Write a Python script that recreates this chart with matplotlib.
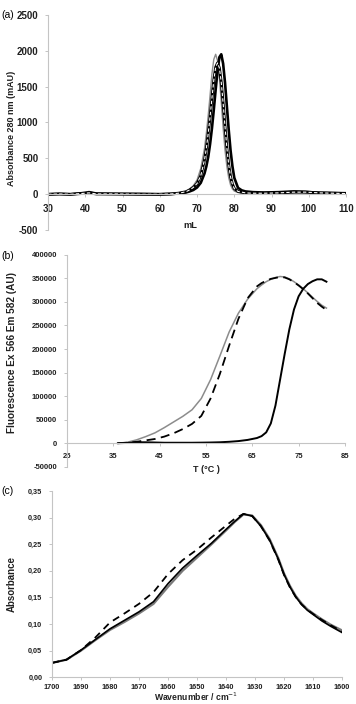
import numpy as np
import matplotlib
matplotlib.use("Agg")
import matplotlib.pyplot as plt
from matplotlib.ticker import FuncFormatter

plt.rcParams['font.family'] = ['Liberation Sans', 'DejaVu Sans']
plt.rcParams['axes.unicode_minus'] = False

# (a) size exclusion chromatogram, mL vs absorbance 280 nm (mAU)
ml = [30, 33, 36, 40, 41, 43, 48, 55, 60, 63,
      65, 67, 68, 69, 70, 71, 72, 72.5, 73, 73.5,
      74, 74.5, 75, 75.5, 76, 76.5, 77, 77.5, 78, 78.5,
      79, 79.5, 80, 81, 82, 83, 85, 88, 92, 96,
      99, 103, 110]
abs_gray = [0, 8, 0, 15, 20, 5, 5, 0, 0, 5,
            15, 40, 75, 120, 200, 360, 640, 850, 1100, 1380,
            1680, 1880, 1950, 1860, 1620, 1290, 930, 620, 390, 230,
            130, 75, 45, 25, 15, 10, 10, 10, 15, 25,
            25, 15, 10]
abs_black = [0, 5, 0, 20, 30, 10, 5, 5, 0, 5,
             10, 25, 40, 60, 95, 160, 290, 390, 520, 700,
             920, 1180, 1460, 1720, 1910, 1950, 1820, 1560, 1230, 900,
             610, 390, 230, 90, 55, 40, 30, 25, 30, 40,
             35, 20, 15]
abs_dash = [0, 5, 0, 15, 20, 5, 5, 0, 0, 5,
            15, 35, 60, 95, 150, 260, 480, 640, 850, 1080,
            1340, 1590, 1770, 1830, 1760, 1560, 1270, 950, 650, 410,
            240, 140, 80, 40, 30, 20, 15, 15, 20, 30,
            30, 20, 10]

# (b) thermal shift, T vs fluorescence
temp = [36, 38, 40, 42, 44, 46, 48, 50, 52, 54, 56, 58, 60, 62, 64,
        66, 67, 68, 69, 70, 71, 72, 73, 74, 75, 76, 77, 78, 79, 80, 81]
fl_gray = [0, 2000, 7000, 14000, 22000, 33000, 45000, 57000, 71000, 95000,
           135000, 185000, 236000, 276000, 306000,
           328000, 336000, 343000, 348000, 352000, 354000, 353000, 349000, 343000, 336000,
           328000, 319000, 310000, 301000, 293000, 287000]
fl_dash = [0, 1000, 3000, 6000, 9000, 14000, 21000, 30000, 41000, 58000,
           95000, 147000, 207000, 264000, 308000,
           333000, 340000, 345000, 349000, 351000, 353000, 352000, 348000, 342000, 335000,
           327000, 318000, 308000, 298000, 290000, 283000]
fl_black = [0, 500, 2000, 2000, 1500, 1000, 1000, 1000, 1000, 1200,
            1500, 2000, 3000, 4500, 7000,
            11000, 15000, 23000, 42000, 80000, 135000, 190000, 242000, 284000, 312000,
            328000, 338000, 344000, 348000, 348000, 343000]

# (c) FTIR amide I band
wn = [1700, 1695, 1690, 1685, 1680, 1675, 1670, 1665, 1660, 1655,
      1650, 1645, 1640, 1637, 1634, 1631, 1628, 1625, 1622, 1620,
      1618, 1616, 1614, 1612, 1610, 1607, 1604, 1600]
ir_black = [0.027, 0.033, 0.051, 0.071, 0.091, 0.107, 0.123, 0.142, 0.176, 0.205,
            0.229, 0.252, 0.278, 0.293, 0.307, 0.303, 0.284, 0.258, 0.222, 0.193,
            0.170, 0.151, 0.137, 0.126, 0.118, 0.106, 0.096, 0.084]
ir_gray = [0.027, 0.033, 0.050, 0.070, 0.089, 0.104, 0.120, 0.138, 0.170, 0.200,
           0.225, 0.250, 0.276, 0.292, 0.306, 0.304, 0.286, 0.260, 0.224, 0.195,
           0.172, 0.153, 0.139, 0.128, 0.120, 0.109, 0.099, 0.088]
ir_dash = [0.027, 0.033, 0.051, 0.075, 0.103, 0.120, 0.138, 0.160, 0.194, 0.220,
           0.240, 0.263, 0.285, 0.298, 0.307, 0.303, 0.284, 0.257, 0.221, 0.192,
           0.169, 0.151, 0.137, 0.127, 0.119, 0.108, 0.098, 0.086]

SP = '#c4c4c4'
TC = '#202020'


def style(ax, fs, zero_axis=True, xpad=5):
    for s in ['top', 'right']:
        ax.spines[s].set_visible(False)
    for s in ['left', 'bottom']:
        ax.spines[s].set_color(SP)
        ax.spines[s].set_linewidth(0.8)
    if zero_axis:
        ax.spines['bottom'].set_position(('data', 0))
    ax.tick_params(length=2, width=0.7, color=SP, labelsize=fs, pad=5, labelcolor=TC)
    ax.tick_params(axis='x', pad=xpad)
    for lab in ax.get_xticklabels() + ax.get_yticklabels():
        lab.set_fontweight('bold')


fig = plt.figure(figsize=(3.56, 7.04), dpi=100)

# ---- (a)
ax1 = fig.add_axes([0.135, 0.673, 0.837, 0.306])
ax1.plot(ml, abs_gray, color='#8c8c8c', lw=1.0)
ax1.plot(ml, abs_black, color='black', lw=1.9)
ax1.plot(ml, abs_dash, color='black', lw=2.1)
ax1.plot(ml, abs_dash, color='white', lw=0.8, dashes=(3, 2))
ax1.set_xlim(30, 110)
ax1.set_ylim(-500, 2500)
ax1.set_xticks(range(30, 111, 10))
ax1.set_yticks(range(-500, 2501, 500))
style(ax1, 7)
ax1.text(0.477, 0.023, 'mL', transform=ax1.transAxes, ha='center', va='center',
         fontsize=6.7, fontweight='bold', color=TC)
fig.text(0.033, 0.817, 'Absorbance 280 nm (mAU)', rotation=90, ha='center', va='center',
         fontsize=6.5, fontweight='bold', color=TC)
fig.text(0.003, 0.978, '(a)', fontsize=7.5, ha='left', va='center')

# ---- (b)
ax2 = fig.add_axes([0.188, 0.337, 0.781, 0.301])
ax2.plot(temp, fl_gray, color='#8c8c8c', lw=1.1)
ax2.plot(temp, fl_dash, color='black', lw=1.3, dashes=(5, 3))
ax2.plot(temp, fl_black, color='black', lw=1.4)
ax2.set_xlim(25, 85)
ax2.set_ylim(-50000, 400000)
ax2.set_xticks(range(25, 86, 10))
ax2.set_yticks(range(-50000, 400001, 50000))
style(ax2, 5.5)
ax2.text(0.50, -0.012, 'T (°C )', transform=ax2.transAxes, ha='center', va='center',
         fontsize=6.5, fontweight='bold', color=TC)
fig.text(0.033, 0.499, 'Fluorescence Ex 566 Em 582 (AU)', rotation=90, ha='center',
         va='center', fontsize=7.2, fontweight='bold', color=TC)
fig.text(0.003, 0.637, '(b)', fontsize=7.5, ha='left', va='center')

# ---- (c)
ax3 = fig.add_axes([0.146, 0.038, 0.815, 0.2645])
ax3.plot(wn, ir_gray, color='#7a7a7a', lw=1.6)
ax3.plot(wn, ir_black, color='black', lw=1.2)
ax3.plot(wn, ir_dash, color='black', lw=1.3, dashes=(4, 3))
ax3.set_xlim(1700, 1600)
ax3.set_ylim(0, 0.35)
ax3.set_xticks(range(1700, 1599, -10))
ax3.set_yticks(np.arange(0, 0.351, 0.05))
ax3.yaxis.set_major_formatter(FuncFormatter(lambda v, p: f'{v:.2f}'.replace('.', ',')))
style(ax3, 5.3, zero_axis=False, xpad=3)
fig.text(0.55, 0.002, 'Wavenumber / cm$^{-1}$', ha='center', va='bottom',
         fontsize=6.2, fontweight='bold', color=TC)
fig.text(0.034, 0.171, 'Absorbance', rotation=90, ha='center', va='center',
         fontsize=7, fontweight='bold', color=TC)
fig.text(0.003, 0.302, '(c)', fontsize=7.5, ha='left', va='center')

fig.savefig('out.png', dpi=100)
